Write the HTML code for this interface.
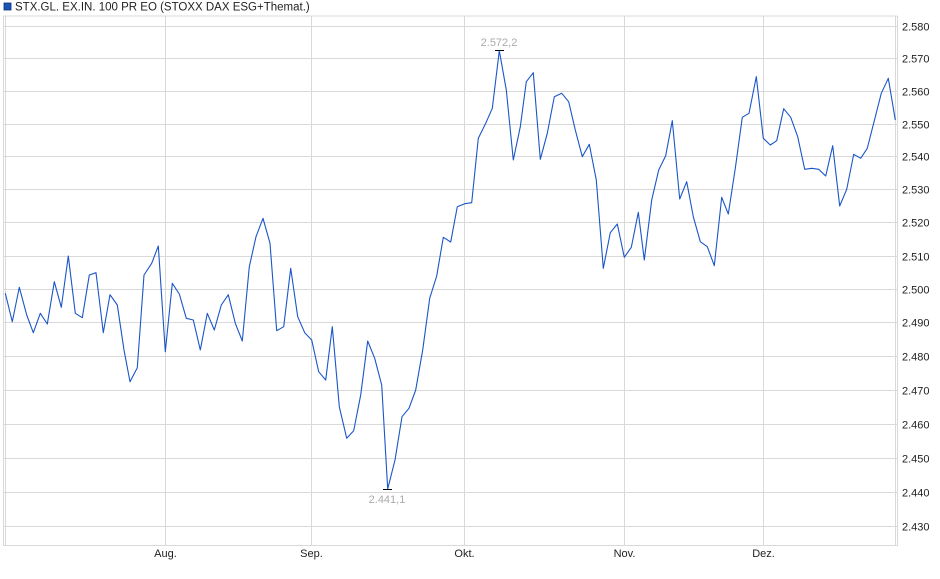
<!DOCTYPE html>
<html><head><meta charset="utf-8"><style>
body{margin:0;background:#fff;}
svg{display:block;font-family:"Liberation Sans",sans-serif;}
</style></head><body>
<svg width="940" height="579" xmlns="http://www.w3.org/2000/svg">
<rect width="940" height="579" fill="#fff"/>
<rect x="4" y="3" width="7" height="7" fill="#1a56b8" stroke="#0d2f6e" stroke-width="0.8"/>
<text x="15" y="10.5" font-size="11.5" fill="#222">STX.GL. EX.IN. 100 PR EO (STOXX DAX ESG+Themat.)</text>
<g stroke="#d9d9d9" stroke-width="1" fill="none">
<line x1="3" y1="16" x2="897" y2="16"/>
<line x1="3" y1="545.5" x2="897" y2="545.5"/>
<line x1="3.5" y1="16" x2="3.5" y2="546"/>
<line x1="5.5" y1="16" x2="5.5" y2="546"/>
<line x1="895.5" y1="16" x2="895.5" y2="546"/>
<line x1="897.5" y1="16" x2="897.5" y2="546"/>
<line x1="165.5" y1="16" x2="165.5" y2="546"/>
<line x1="311.5" y1="16" x2="311.5" y2="546"/>
<line x1="464.5" y1="16" x2="464.5" y2="546"/>
<line x1="624.5" y1="16" x2="624.5" y2="546"/>
<line x1="763.5" y1="16" x2="763.5" y2="546"/>
<line x1="3" y1="26.5" x2="897" y2="26.5"/>
<line x1="3" y1="58.5" x2="897" y2="58.5"/>
<line x1="3" y1="91.5" x2="897" y2="91.5"/>
<line x1="3" y1="124.5" x2="897" y2="124.5"/>
<line x1="3" y1="156.5" x2="897" y2="156.5"/>
<line x1="3" y1="189.5" x2="897" y2="189.5"/>
<line x1="3" y1="222.5" x2="897" y2="222.5"/>
<line x1="3" y1="256.5" x2="897" y2="256.5"/>
<line x1="3" y1="289.5" x2="897" y2="289.5"/>
<line x1="3" y1="322.5" x2="897" y2="322.5"/>
<line x1="3" y1="356.5" x2="897" y2="356.5"/>
<line x1="3" y1="390.5" x2="897" y2="390.5"/>
<line x1="3" y1="424.5" x2="897" y2="424.5"/>
<line x1="3" y1="458.5" x2="897" y2="458.5"/>
<line x1="3" y1="492.5" x2="897" y2="492.5"/>
<line x1="3" y1="526.5" x2="897" y2="526.5"/>
</g>
<g font-size="11" fill="#222">
<text x="902" y="30.5">2.580</text><text x="902" y="62.5">2.570</text><text x="902" y="95.5">2.560</text>
<text x="902" y="128.5">2.550</text><text x="902" y="160.5">2.540</text><text x="902" y="193.5">2.530</text>
<text x="902" y="226.5">2.520</text><text x="902" y="260.5">2.510</text><text x="902" y="293.5">2.500</text>
<text x="902" y="326.5">2.490</text><text x="902" y="360.5">2.480</text><text x="902" y="394.5">2.470</text>
<text x="902" y="428.5">2.460</text><text x="902" y="462.5">2.450</text><text x="902" y="496.5">2.440</text>
<text x="902" y="530.5">2.430</text>
</g>
<g font-size="11" fill="#222" text-anchor="middle">
<text x="165.5" y="557">Aug.</text><text x="311.5" y="557">Sep.</text><text x="464.5" y="557">Okt.</text>
<text x="624.5" y="557">Nov.</text><text x="763.5" y="557">Dez.</text>
</g>
<polyline fill="none" stroke="#1a56c8" stroke-width="1.1" stroke-linejoin="round" points="5.3,293.3 12.3,321.7 19.3,287.3 26.7,315 33.3,332.7 40.3,313.3 47.3,324 54.3,281.7 61.3,307.3 68.3,256 75.3,313.3 82.3,317.7 89.3,275 96,272.7 103.3,332.7 110,294.7 117.3,305 124,350 130,381.7 137.3,367.7 144,275 151.7,263.3 158.3,246 165.3,351.7 172.3,283.3 179.3,294 186.3,318.3 193.3,320 200.3,350 207.3,313.3 214.3,330 221.3,305 228.3,294.7 235.3,323.3 242.3,341 249.3,266.7 256,236.7 263,218.3 270,243.3 276.7,330.7 283.7,326.7 290.7,268.3 297.7,316.7 304.7,332.7 311.7,340 318.7,371.7 325.7,380 332.3,326.7 339.3,406.7 346.7,438.3 353.7,430.7 360.7,395 367.7,341 374.7,358.3 381.7,385 387.7,489 395,460 402,416.7 409,408.3 415.7,390 422.7,350 429.7,298.3 436.7,276 443.3,237.3 450.7,242 457.3,206.7 464.7,203.7 471.7,202.7 478.3,138.3 485.7,123.3 492.3,108.3 499.3,50.7 506.3,90 513.3,160 520.3,126.7 526.3,81.7 533.3,72.7 540.3,159.3 547.3,133.3 554.3,96.7 561.7,93.3 568.7,101.7 575.3,130 582.3,156.7 589.3,144.3 596.3,180 603.3,268.3 610.3,232.7 617.3,224 624.3,257.3 631.3,247.3 638.3,212.3 644.3,260 651.7,200 658.7,170 665.7,155.7 672.3,120.7 679.7,199 686.7,181.7 693.3,216.7 700.3,241.7 707.3,246.7 714.3,265.7 721.7,197.3 728.3,214 735.3,168.3 742.3,117.3 749,113.3 756.3,76.7 763.3,138.3 770.3,145 776.7,140.7 783.7,108.7 790.7,117.3 797.7,136.7 804.7,169.3 811.7,168.3 818.7,169.3 825.7,176 832.7,145.7 839.7,206 846.7,189.3 853.7,154.3 860.7,158.3 867.3,148.3 874.3,120.7 881.3,93.3 888.3,78.3 895.3,120"/>
<line x1="495" y1="50.5" x2="504" y2="50.5" stroke="#000" stroke-width="1"/>
<line x1="383" y1="489.5" x2="392" y2="489.5" stroke="#000" stroke-width="1"/>
<text x="499" y="46" font-size="11" fill="#aaa" text-anchor="middle">2.572,2</text>
<text x="387" y="503" font-size="11" fill="#aaa" text-anchor="middle">2.441,1</text>
</svg>
</body></html>
